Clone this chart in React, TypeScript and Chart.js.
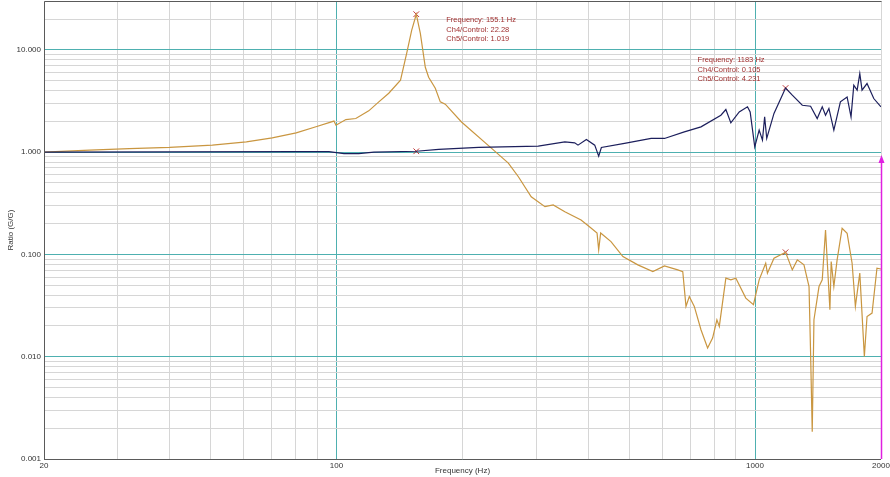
import React, { useEffect, useRef } from "react";
import { Chart, registerables } from "chart.js";

Chart.register(...registerables);

// Frequency (Hz) for Ch4/Control ratio
const ch4Freq = [20, 25.7, 32.0, 39.9, 50.5, 60.9, 70.2, 80.1, 89.3, 98.6, 99.7, 105.3, 111.2, 119.4, 126.2, 133.3, 142.2, 147.1, 151.2, 155.1, 158.6, 163.0, 166.0, 172.2, 177.0, 181.9, 198.9, 234.4, 257.4, 272, 291.9, 314.8, 329.4, 351.2, 384, 405.6, 419.3, 423.1, 427.7, 452.7, 483.4, 524.8, 570, 607.6, 653.8, 672, 684, 696.6, 716, 742.8, 770.4, 791.8, 810.8, 821.6, 851.8, 875.4, 900, 950.6, 991.4, 1023, 1060.6, 1070.6, 1110, 1183, 1227.6, 1262, 1309, 1346, 1357.6, 1370, 1383, 1422, 1447.6, 1474, 1510, 1520.6, 1543, 1571, 1614.8, 1659.8, 1706, 1737, 1779.8, 1825, 1852, 1904, 1956, 2000];
const ch4Ratio = [1.0, 1.046, 1.082, 1.11, 1.17, 1.26, 1.38, 1.54, 1.77, 2.01, 1.83, 2.08, 2.13, 2.53, 3.10, 3.76, 5.04, 9.25, 15.5, 22.28, 14.5, 6.75, 5.39, 4.21, 3.10, 2.94, 1.97, 1.094, 0.781, 0.574, 0.366, 0.2926, 0.304, 0.2616, 0.217, 0.1813, 0.162, 0.1106, 0.162, 0.1333, 0.0952, 0.079, 0.0679, 0.0772, 0.0706, 0.0679, 0.031, 0.0388, 0.031, 0.01834, 0.01216, 0.01522, 0.02296, 0.01976, 0.0586, 0.0564, 0.0586, 0.0374, 0.0322, 0.0564, 0.082, 0.0656, 0.0918, 0.105, 0.0706, 0.0884, 0.079, 0.0485, 0.01094, 0.00185, 0.02296, 0.0485, 0.0564, 0.1734, 0.02874, 0.0851, 0.0485, 0.0884, 0.1803, 0.161, 0.082, 0.031, 0.0656, 0.01007, 0.0247, 0.0267, 0.0733, 0.072];

// Frequency (Hz) for Ch5/Control ratio
const ch5Freq = [20, 81.4, 95.9, 104.2, 113, 122.8, 155.1, 175.4, 218.4, 303.4, 351.2, 370.8, 377.6, 395.4, 414, 423.1, 429.4, 487.6, 564.6, 607.6, 677.8, 742.8, 828.8, 851.8, 875.4, 916.8, 959.4, 973.6, 998.6, 1023, 1041.8, 1054.4, 1066.6, 1110, 1183, 1227.6, 1297, 1357.6, 1408, 1447.6, 1474, 1501.6, 1543, 1599.6, 1659.8, 1696, 1722, 1754, 1779.8, 1802, 1852, 1922, 2000];
const ch5Ratio = [1.0, 1.01, 1.01, 0.967, 0.967, 1.0, 1.019, 1.063, 1.11, 1.144, 1.26, 1.232, 1.17, 1.33, 1.17, 0.914, 1.11, 1.216, 1.36, 1.36, 1.578, 1.766, 2.296, 2.61, 1.93, 2.47, 2.77, 2.47, 1.126, 1.64, 1.31, 2.21, 1.36, 2.39, 4.231, 3.6, 2.87, 2.81, 2.13, 2.77, 2.296, 2.67, 1.64, 3.10, 3.46, 2.21, 4.5, 4.03, 5.86, 4.03, 4.68, 3.34, 2.77];

// Cursor markers
const markerFreq = [155.1, 1183];
const markerCh4 = [22.28, 0.105];
const markerCh5 = [1.019, 4.231];

// Axis ticks
const xTicks = [20, 30, 40, 50, 60, 70, 80, 90, 100, 200, 300, 400, 500, 600, 700, 800, 900, 1000, 2000];
const xLabeled = [20, 100, 1000, 2000];
const xMajor = [100, 1000];
const yTicks = [0.001, 0.002, 0.003, 0.004, 0.005, 0.006, 0.007, 0.008, 0.009, 0.01, 0.02, 0.03, 0.04, 0.05, 0.06, 0.07, 0.08, 0.09, 0.1, 0.2, 0.3, 0.4, 0.5, 0.6, 0.7, 0.8, 0.9, 1, 2, 3, 4, 5, 6, 7, 8, 9, 10, 20, 30];
const yLabeled = [0.001, 0.01, 0.1, 1, 10];

const FONT = "'Liberation Sans', Arial, sans-serif";
const TEAL = "#4eb0b0";
const GRAY = "#d6d6d6";
const RED = "#a03030";

const isIn = (v: number, list: number[]) =>
  list.some((t) => Math.abs(Math.log10(v) - Math.log10(t)) < 1e-6);

export default function App() {
  const ref = useRef<HTMLCanvasElement | null>(null);

  useEffect(() => {
    document.body.style.margin = "0";
    const canvas = ref.current;
    if (!canvas) return;

    const framePlugin = {
      id: "frame",
      afterDraw(chart: any) {
        const { ctx, chartArea } = chart;
        const xs = chart.scales.x;
        const ys = chart.scales.y;
        ctx.save();
        ctx.strokeStyle = "#5a5a5a";
        ctx.lineWidth = 1;
        ctx.beginPath();
        ctx.moveTo(chartArea.left + 0.5, chartArea.bottom + 0.5);
        ctx.lineTo(chartArea.left + 0.5, chartArea.top + 0.5);
        ctx.lineTo(chartArea.right + 0.5, chartArea.top + 0.5);
        ctx.moveTo(chartArea.left, chartArea.bottom + 0.5);
        ctx.lineTo(chartArea.right, chartArea.bottom + 0.5);
        ctx.stroke();

        // magenta arrow at 2000 Hz
        const ax = Math.round(xs.getPixelForValue(2000)) + 0.5;
        const aTop = ys.getPixelForValue(1) + 3;
        ctx.strokeStyle = "#e020e0";
        ctx.fillStyle = "#e020e0";
        ctx.lineWidth = 1.5;
        ctx.beginPath();
        ctx.moveTo(ax, chartArea.bottom);
        ctx.lineTo(ax, aTop + 6);
        ctx.stroke();
        ctx.beginPath();
        ctx.moveTo(ax, aTop);
        ctx.lineTo(ax - 3, aTop + 8);
        ctx.lineTo(ax + 3, aTop + 8);
        ctx.closePath();
        ctx.fill();

        // cursor annotations
        ctx.fillStyle = RED;
        ctx.font = `7.5px ${FONT}`;
        ctx.textBaseline = "middle";
        ctx.textAlign = "left";
        const lines = (i: number) => [
          `Frequency: ${markerFreq[i]} Hz`,
          `Ch4/Control: ${markerCh4[i]}`,
          `Ch5/Control: ${markerCh5[i]}`,
        ];
        const a1x = xs.getPixelForValue(markerFreq[0]) + 30;
        const a1y = ys.getPixelForValue(markerCh4[0]) + 6;
        lines(0).forEach((t, k) => ctx.fillText(t, a1x, a1y + k * 9.6));
        const a2x = xs.getPixelForValue(markerFreq[1]) - 88;
        const a2y = ys.getPixelForValue(markerCh5[1]) - 28;
        lines(1).forEach((t, k) => ctx.fillText(t, a2x, a2y + k * 9.6));
        ctx.restore();
      },
    };

    const chart = new Chart(canvas, {
      type: "line",
      data: {
        datasets: [
          {
            label: "Ch5/Control",
            data: ch5Freq.map((f, i) => ({ x: f, y: ch5Ratio[i] })),
            borderColor: "#1c1f5c",
            borderWidth: 1.2,
            pointRadius: 0,
            tension: 0,
          },
          {
            label: "Ch4/Control",
            data: ch4Freq.map((f, i) => ({ x: f, y: ch4Ratio[i] })),
            borderColor: "#c99640",
            borderWidth: 1.2,
            pointRadius: 0,
            tension: 0,
          },
          {
            label: "Cursor Ch4",
            data: markerFreq.map((f, i) => ({ x: f, y: markerCh4[i] })),
            showLine: false,
            pointStyle: "crossRot",
            pointRadius: 4,
            pointBorderColor: "#c03838",
            pointBorderWidth: 1,
            borderColor: "#c03838",
          },
          {
            label: "Cursor Ch5",
            data: markerFreq.map((f, i) => ({ x: f, y: markerCh5[i] })),
            showLine: false,
            pointStyle: "crossRot",
            pointRadius: 4,
            pointBorderColor: "#c03838",
            pointBorderWidth: 1,
            borderColor: "#c03838",
          },
        ],
      },
      options: {
        animation: false,
        responsive: false,
        maintainAspectRatio: false,
        layout: { padding: { left: 0, right: 9, top: 1, bottom: 0 } },
        plugins: {
          legend: { display: false },
          tooltip: { enabled: false },
        },
        scales: {
          x: {
            type: "logarithmic",
            min: 20,
            max: 2000,
            afterBuildTicks: (scale: any) => {
              scale.ticks = xTicks.map((v) => ({ value: v }));
            },
            afterFit: (scale: any) => {
              scale.height = 18;
              scale.paddingLeft = 0;
              scale.paddingRight = 0;
            },
            ticks: {
              autoSkip: false,
              maxRotation: 0,
              minRotation: 0,
              padding: 2,
              color: "#333",
              font: { family: FONT, size: 8 },
              callback: (v: any) => (isIn(Number(v), xLabeled) ? String(v) : ""),
            },
            grid: {
              drawTicks: false,
              color: (c: any) => (c.tick && isIn(c.tick.value, xMajor) ? TEAL : GRAY),
              lineWidth: 1,
            },
            border: { display: false },
            title: {
              display: true,
              text: "Frequency (Hz)",
              color: "#333",
              font: { family: FONT, size: 8 },
              padding: { top: 0, bottom: 1 },
            },
          },
          y: {
            type: "logarithmic",
            min: 0.001,
            max: 30,
            afterBuildTicks: (scale: any) => {
              scale.ticks = yTicks.map((v) => ({ value: v }));
            },
            afterFit: (scale: any) => {
              scale.width = 44;
              scale.paddingTop = 0;
              scale.paddingBottom = 0;
            },
            ticks: {
              autoSkip: false,
              padding: 3,
              color: "#333",
              font: { family: FONT, size: 8 },
              callback: (v: any) => (isIn(Number(v), yLabeled) ? Number(v).toFixed(3) : ""),
            },
            grid: {
              drawTicks: false,
              color: (c: any) => (c.tick && isIn(c.tick.value, yLabeled) ? TEAL : GRAY),
              lineWidth: 1,
            },
            border: { display: false },
            title: {
              display: true,
              text: "Ratio (G/G)",
              color: "#333",
              font: { family: FONT, size: 8 },
              padding: { top: 6, bottom: 0 },
            },
          },
        },
      },
      plugins: [framePlugin],
    } as any);

    return () => chart.destroy();
  }, []);

  return (
    <div style={{ width: 890, height: 477, background: "#fff", overflow: "hidden" }}>
      <canvas ref={ref} width={890} height={481} style={{ display: "block", marginTop: -4 }} />
    </div>
  );
}
